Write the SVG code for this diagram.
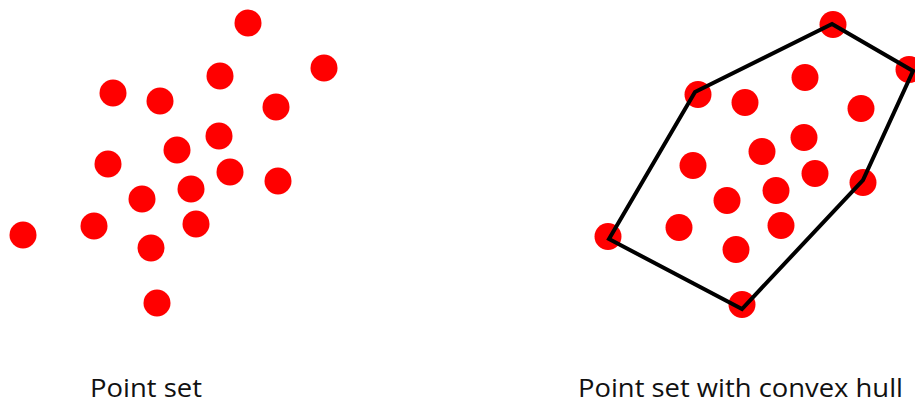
<svg xmlns="http://www.w3.org/2000/svg" width="915" height="406" viewBox="0 0 915 406">
<defs>
<style>
.pt{fill:#ff0000}
.hull{fill:none;stroke:#000;stroke-width:4;stroke-linejoin:miter}
.lbl{font-family:"Open Sans","Liberation Sans",sans-serif;font-size:26px;fill:#111}
</style>
<g id="pts">
<circle class="pt" cx="248" cy="23" r="13.5"/>
<circle class="pt" cx="324" cy="68" r="13.5"/>
<circle class="pt" cx="220" cy="76" r="13.5"/>
<circle class="pt" cx="113" cy="93" r="13.5"/>
<circle class="pt" cx="160" cy="101" r="13.5"/>
<circle class="pt" cx="276" cy="107" r="13.5"/>
<circle class="pt" cx="219" cy="136" r="13.5"/>
<circle class="pt" cx="177" cy="150" r="13.5"/>
<circle class="pt" cx="108" cy="164" r="13.5"/>
<circle class="pt" cx="230" cy="172" r="13.5"/>
<circle class="pt" cx="278" cy="181" r="13.5"/>
<circle class="pt" cx="191" cy="189" r="13.5"/>
<circle class="pt" cx="142" cy="199" r="13.5"/>
<circle class="pt" cx="94" cy="226" r="13.5"/>
<circle class="pt" cx="196" cy="224" r="13.5"/>
<circle class="pt" cx="23" cy="235" r="13.5"/>
<circle class="pt" cx="151" cy="248" r="13.5"/>
<circle class="pt" cx="157" cy="303" r="13.5"/>
</g>
</defs>
<rect width="915" height="406" fill="#fff"/>
<g id="left-set">
<use href="#pts"/>
</g>
<g id="right-set">
<use href="#pts" transform="translate(585,1.5)"/>
</g>
<g id="connectors">
<polygon class="hull" points="832,24 913,71 863,180 742,309 609,239 695,92"/>
</g>
<g id="labels">
<text class="lbl" x="90" y="397" textLength="112" lengthAdjust="spacingAndGlyphs">Point set</text>
<text class="lbl" x="578" y="397" textLength="325" lengthAdjust="spacingAndGlyphs">Point set with convex hull</text>
</g>
</svg>
